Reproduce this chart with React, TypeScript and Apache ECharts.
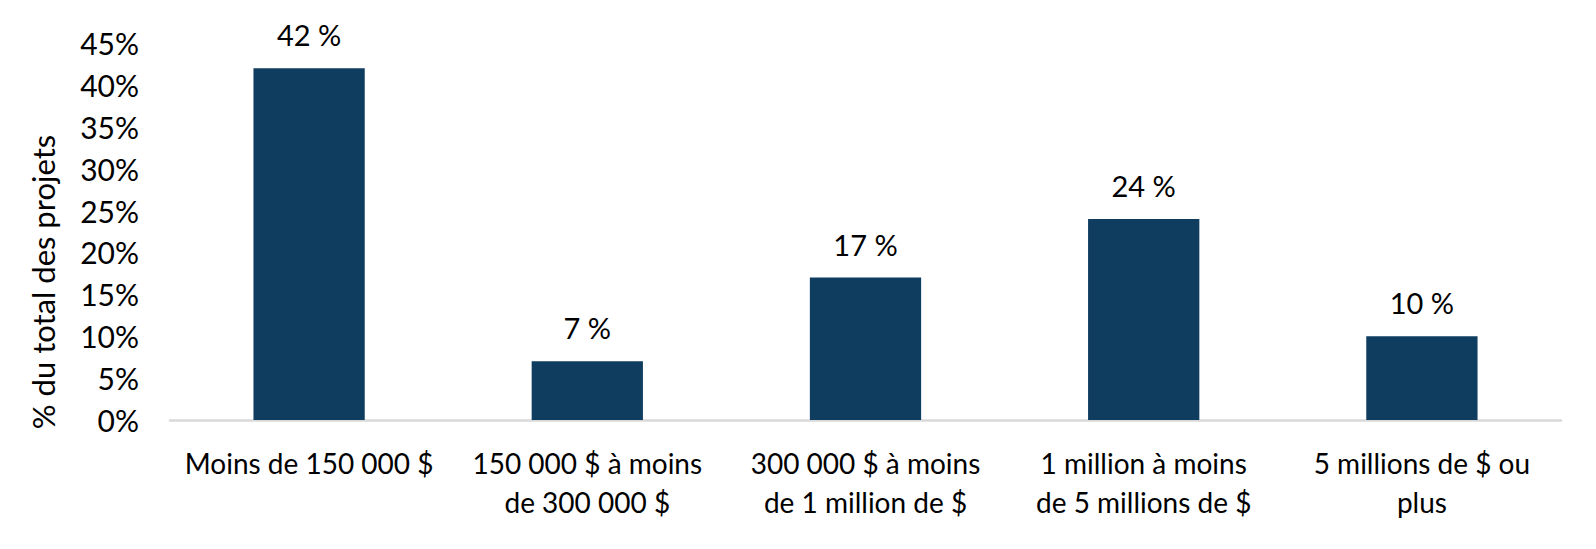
import React, { useEffect, useRef } from "react";
import * as echarts from "echarts";

const categories = [
  "Moins de 150 000 $",
  "150 000 $ à moins\nde 300 000 $",
  "300 000 $ à moins\nde 1 million de $",
  "1 million à moins\nde 5 millions de $",
  "5 millions de $ ou\nplus",
];
const values = [42, 7, 17, 24, 10];
const yAxisTitle = "% du total des projets";

const FONT = "Lato, 'Liberation Sans', sans-serif";

export default function App() {
  const ref = useRef<HTMLDivElement>(null);
  useEffect(() => {
    if (!ref.current) return;
    const chart = echarts.init(ref.current, undefined, { renderer: "svg" });
    chart.setOption({
      animation: false,
      backgroundColor: "#ffffff",
      grid: { left: 162, right: 27, top: 35, bottom: 121, containLabel: false },
      xAxis: {
        type: "category",
        data: categories,
        axisLine: { lineStyle: { color: "#D9D9D9", width: 2.5 } },
        axisTick: { show: false },
        axisLabel: {
          color: "#000",
          fontFamily: FONT,
          fontSize: 28,
          lineHeight: 39,
          margin: 23,
          interval: 0,
        },
      },
      yAxis: {
        type: "value",
        min: 0,
        max: 45,
        interval: 5,
        splitLine: { show: false },
        axisLine: { show: false },
        axisTick: { show: false },
        axisLabel: {
          color: "#000",
          fontFamily: FONT,
          fontSize: 30,
          margin: 31,
          formatter: (v: number) => `${v}%`,
        },
      },
      series: [
        {
          type: "bar",
          data: values,
          barWidth: "40%",
          itemStyle: { color: "#0F3D5F" },
          label: {
            show: true,
            position: "top",
            distance: 19,
            color: "#000",
            fontFamily: FONT,
            fontSize: 29,
            formatter: (p: any) => `${p.value} %`,
          },
        },
      ],
      graphic: [
        {
          type: "text",
          x: 35,
          y: 274,
          rotation: Math.PI / 2,
          style: {
            text: yAxisTitle,
            fill: "#000",
            font: `31px ${FONT}`,
            textAlign: "center",
            textVerticalAlign: "middle",
          },
        },
      ],
    });
    return () => chart.dispose();
  }, []);
  return <div ref={ref} style={{ width: 1580, height: 533 }} />;
}
